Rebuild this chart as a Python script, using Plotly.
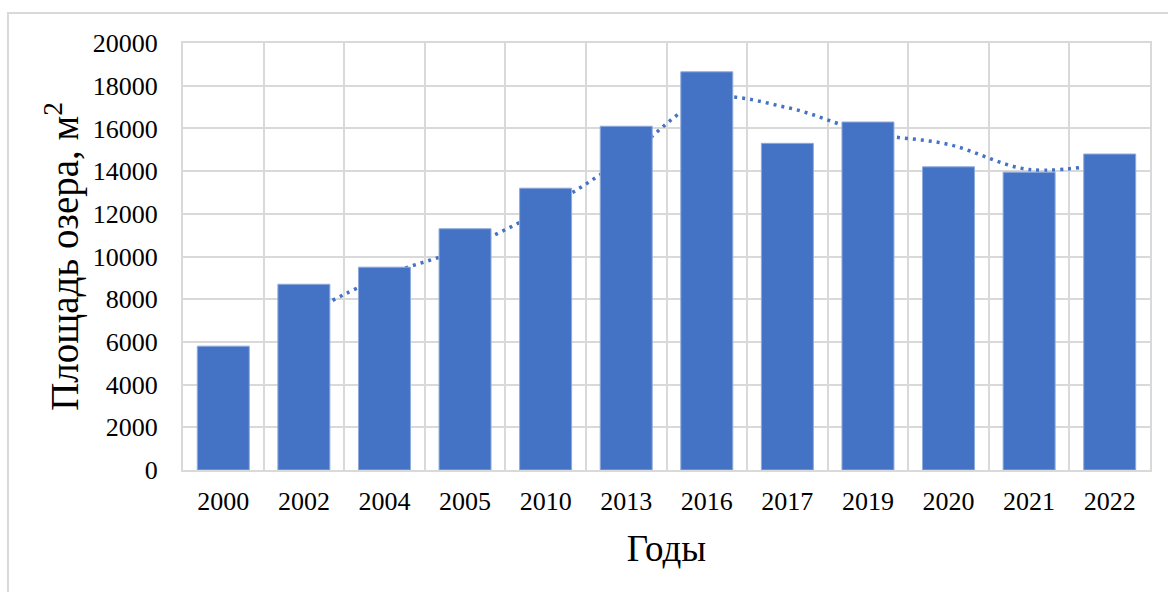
import plotly.graph_objects as go

# Lake area by survey year
years = ["2000", "2002", "2004", "2005", "2010", "2013", "2016", "2017", "2019", "2020", "2021", "2022"]
area = [5800, 8700, 9500, 11300, 13200, 16100, 18650, 15300, 16300, 14200, 13950, 14800]

# two-period moving average (trend line), starting from the second year
trend_x = years[1:]
trend_y = [(area[i - 1] + area[i]) / 2 for i in range(1, len(area))]

y_ticks = list(range(0, 20001, 2000))

BLUE = "#4472C4"
GRID = "#d9d9d9"
FONT = "Liberation Serif, Times New Roman, serif"

fig = go.Figure()

# trend line on the base axes so the bars (overlay axes) cover it
fig.add_trace(go.Scatter(
    x=trend_x, y=trend_y, mode="lines",
    line=dict(color=BLUE, width=3.5, dash="3px,5px", shape="spline", smoothing=1.0),
    xaxis="x", yaxis="y", showlegend=False, hoverinfo="skip",
))

fig.add_trace(go.Bar(
    x=years, y=area,
    marker=dict(color=BLUE, line=dict(color="#8eaadb", width=1)),
    width=0.645,
    xaxis="x2", yaxis="y2", showlegend=False,
))

xr = [-0.5, len(years) - 0.5]
yr = [0, 20000]

fig.update_layout(
    width=1168, height=592,
    margin=dict(l=183, r=18, t=43, b=122),
    paper_bgcolor="white", plot_bgcolor="white",
    font=dict(family=FONT, size=26, color="black"),
    xaxis=dict(
        type="category", categoryorder="array", categoryarray=years,
        range=xr, tickson="boundaries", ticks="",
        showgrid=True, gridcolor=GRID, gridwidth=2,
        showline=True, linecolor=GRID, linewidth=2, mirror=True,
        tickfont=dict(family=FONT, size=26),
        ticklabelstandoff=7,
        title=dict(text="Годы", font=dict(family=FONT, size=37), standoff=20),
    ),
    yaxis=dict(
        range=yr, tickvals=y_ticks, ticktext=[str(v) for v in y_ticks],
        showgrid=True, gridcolor=GRID, gridwidth=2,
        showline=True, linecolor=GRID, linewidth=2, mirror=True,
        zeroline=False, ticks="",
        tickfont=dict(family=FONT, size=26),
        ticklabelstandoff=18,
        title=dict(text="Площадь озера, м<sup>2</sup>", font=dict(family=FONT, size=39), standoff=2),
    ),
    xaxis2=dict(
        type="category", categoryorder="array", categoryarray=years,
        range=xr, overlaying="x",
        showgrid=False, showticklabels=False, ticks="", showline=False, zeroline=False,
    ),
    yaxis2=dict(
        range=yr, overlaying="y", side="left",
        showgrid=False, showticklabels=False, ticks="", showline=False, zeroline=False,
    ),
    bargap=0.355,
    shapes=[
        # chart area frame
        dict(type="rect", xref="paper", yref="paper",
             x0=-0.181, x1=1.2, y0=-0.5, y1=1.0703,
             line=dict(color=GRID, width=2), fillcolor="rgba(0,0,0,0)", layer="below"),
    ],
)

fig.write_html("out.html")
